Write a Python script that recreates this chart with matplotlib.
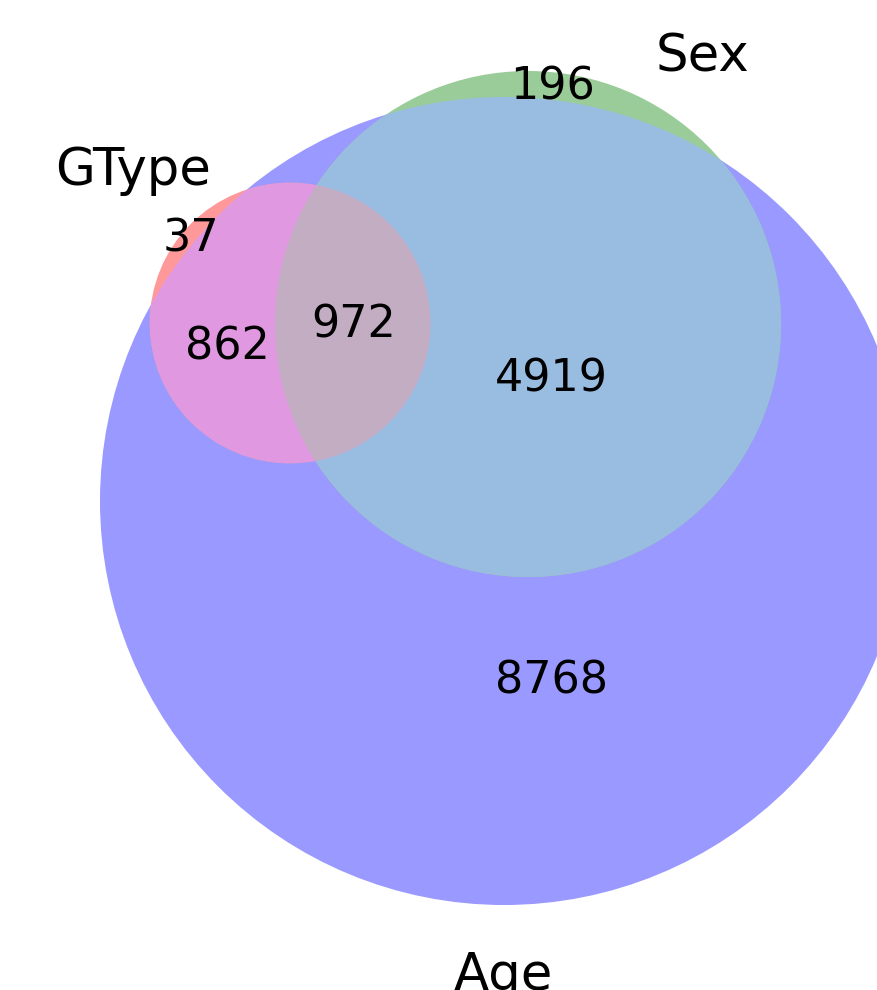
import numpy as np
import matplotlib
matplotlib.use("Agg")
import matplotlib.pyplot as plt
from matplotlib.patches import Circle
from matplotlib.colors import to_rgb

# ---- data ----
set_labels = ["GType", "Sex", "Age"]
# region counts: keys are membership flags (GType, Sex, Age)
region_keys = ["100", "010", "110", "001", "101", "011", "111"]
region_counts = [37, 196, 0, 8768, 862, 4919, 972]
set_colors = ["r", "g", "b"]
alpha = 0.4

counts = dict(zip(region_keys, region_counts))
set_sizes = [sum(v for k, v in counts.items() if k[i] == "1") for i in range(3)]

# ---- layout (pixel coordinates) ----
W, H = 878, 990
fig = plt.figure(figsize=(W / 100, H / 100), dpi=100)
ax = fig.add_axes([0, 0, 1, 1])
ax.set_xlim(0, W)
ax.set_ylim(H, 0)
ax.set_aspect("equal")
ax.axis("off")

R_big = 404.0
radii = [R_big * np.sqrt(s / max(set_sizes)) for s in set_sizes]
centers = [(290, 323), (528, 324), (504, 501)]


def region_color(key):
    cols = [np.array(to_rgb(set_colors[i])) for i in range(3) if key[i] == "1"]
    if len(cols) == 1:
        c = cols[0]
    elif len(cols) == 2:
        c = 0.7 * (cols[0] + cols[1])
    else:
        c = 0.4 * (cols[0] + cols[1] + cols[2])
    c = np.minimum(c, 1.0)
    return tuple((1 - alpha) * np.ones(3) + alpha * c)


def circ(i, key, clip=None):
    p = Circle(centers[i], radii[i], facecolor=region_color(key), edgecolor="none", linewidth=0)
    ax.add_patch(p)
    if clip is not None:
        cp = Circle(centers[clip], radii[clip], transform=ax.transData)
        p.set_clip_path(cp)
    return p

circ(2, "001")            # Age
circ(1, "010")            # Sex
circ(0, "100")            # GType
circ(1, "011", clip=2)    # Sex & Age
circ(0, "101", clip=2)    # GType & Age
circ(0, "111", clip=1)    # GType & Sex (& Age)

# ---- subset labels ----
label_pos = {"100": (191, 252), "010": (553, 99), "001": (552, 693),
             "101": (227, 360), "011": (551, 392), "111": (354, 337)}
for k, (x, y) in label_pos.items():
    if counts[k] > 0:
        ax.text(x, y, str(counts[k]), ha="center", va="baseline", fontsize=32, color="black")

# ---- set labels ----
set_label_pos = [(133, 185), (703, 72), (503, 990)]
for lab, (x, y) in zip(set_labels, set_label_pos):
    ax.text(x, y, lab, ha="center", va="baseline", fontsize=37, color="black")

fig.savefig("out.png", dpi=100)
